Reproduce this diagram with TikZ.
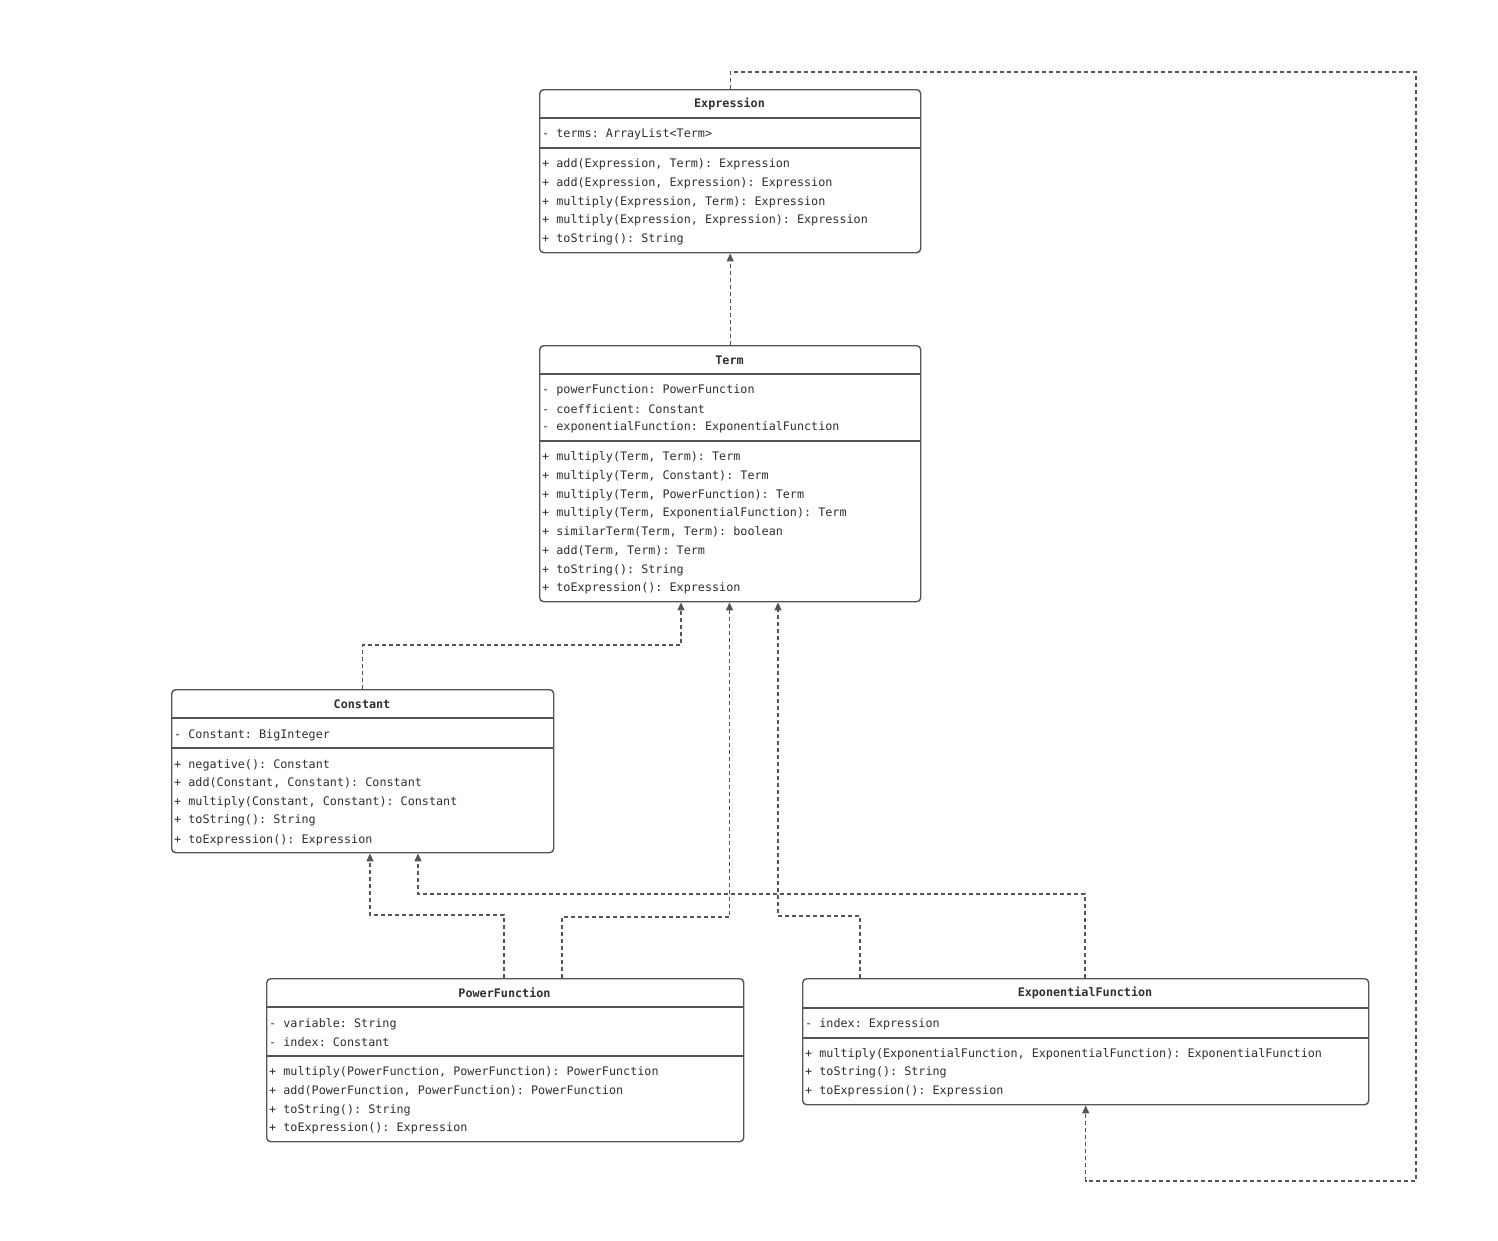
\documentclass[tikz,border=0pt]{standalone}
\usepackage{fontspec}
\setmonofont{DejaVu Sans Mono}
\usetikzlibrary{arrows.meta,calc}
\definecolor{linec}{HTML}{555555}
\definecolor{textc}{HTML}{2F2F2F}
\newcommand{\umlfont}{\ttfamily\fontsize{11.76}{14}\selectfont}
\tikzset{
  cls/.style={draw=linec, line width=1.4pt, rounded corners=4pt, anchor=north west, inner sep=0pt, fill=white},
  sepline/.style={draw=linec, line width=1.4pt},
  rowtxt/.style={anchor=west, inner sep=0pt, text=textc, font=\umlfont, yshift=-1pt},
  ttl/.style={inner sep=0pt, text=textc, font=\umlfont\bfseries, yshift=-1pt},
  dep/.style={draw=linec, line width=1.4pt, dash pattern=on 4pt off 3pt, -{Triangle[length=8pt,width=7pt]}},
}
\begin{document}
\begin{tikzpicture}[x=1pt,y=-1pt]
\useasboundingbox[fill=white] (0,0) rectangle (1498,1240);

% ---------- class boxes ----------
\node[cls, minimum width=381pt, minimum height=163pt] (expr) at (539,89) {};
\node[cls, minimum width=381pt, minimum height=256pt] (term) at (539,345) {};
\node[cls, minimum width=382pt, minimum height=163pt] (const) at (171,689) {};
\node[cls, minimum width=477pt, minimum height=163pt] (pow) at (266,978) {};
\node[cls, minimum width=566pt, minimum height=126pt] (expf) at (802,978) {};

% separators
\draw[sepline] ($(expr.north west)+(0,29)$) -- ($(expr.north east)+(0,29)$);
\draw[sepline] ($(expr.north west)+(0,59)$) -- ($(expr.north east)+(0,59)$);
\draw[sepline] ($(term.north west)+(0,29)$) -- ($(term.north east)+(0,29)$);
\draw[sepline] ($(term.north west)+(0,96)$) -- ($(term.north east)+(0,96)$);
\draw[sepline] ($(const.north west)+(0,29)$) -- ($(const.north east)+(0,29)$);
\draw[sepline] ($(const.north west)+(0,59)$) -- ($(const.north east)+(0,59)$);
\draw[sepline] ($(pow.north west)+(0,29)$) -- ($(pow.north east)+(0,29)$);
\draw[sepline] ($(pow.north west)+(0,78)$) -- ($(pow.north east)+(0,78)$);
\draw[sepline] ($(expf.north west)+(0,30)$) -- ($(expf.north east)+(0,30)$);
\draw[sepline] ($(expf.north west)+(0,60)$) -- ($(expf.north east)+(0,60)$);

% ---------- Expression ----------
\node[ttl] (exprt) at (729.5,103) {Expression};
\node[rowtxt] (ea1) at (542,133) {- terms: ArrayList<Term>};
\node[rowtxt] (em1) at (542,163) {+ add(Expression, Term): Expression};
\node[rowtxt] (em2) at (542,182) {+ add(Expression, Expression): Expression};
\node[rowtxt] (em3) at (542,201) {+ multiply(Expression, Term): Expression};
\node[rowtxt] (em4) at (542,219) {+ multiply(Expression, Expression): Expression};
\node[rowtxt] (em5) at (542,238) {+ toString(): String};

% ---------- Term ----------
\node[ttl] (termt) at (729.5,359) {Term};
\node[rowtxt] (ta1) at (542,389) {- powerFunction: PowerFunction};
\node[rowtxt] (ta2) at (542,408) {- coefficient: Constant};
\node[rowtxt] (ta3) at (542,426) {- exponentialFunction: ExponentialFunction};
\node[rowtxt] (tm1) at (542,456) {+ multiply(Term, Term): Term};
\node[rowtxt] (tm2) at (542,475) {+ multiply(Term, Constant): Term};
\node[rowtxt] (tm3) at (542,494) {+ multiply(Term, PowerFunction): Term};
\node[rowtxt] (tm4) at (542,512) {+ multiply(Term, ExponentialFunction): Term};
\node[rowtxt] (tm5) at (542,531) {+ similarTerm(Term, Term): boolean};
\node[rowtxt] (tm6) at (542,550) {+ add(Term, Term): Term};
\node[rowtxt] (tm7) at (542,569) {+ toString(): String};
\node[rowtxt] (tm8) at (542,587) {+ toExpression(): Expression};

% ---------- Constant ----------
\node[ttl] (constt) at (362,703) {Constant};
\node[rowtxt] (ca1) at (174,734) {- Constant: BigInteger};
\node[rowtxt] (cm1) at (174,764) {+ negative(): Constant};
\node[rowtxt] (cm2) at (174,782) {+ add(Constant, Constant): Constant};
\node[rowtxt] (cm3) at (174,801) {+ multiply(Constant, Constant): Constant};
\node[rowtxt] (cm4) at (174,819) {+ toString(): String};
\node[rowtxt] (cm5) at (174,839) {+ toExpression(): Expression};

% ---------- PowerFunction ----------
\node[ttl] (powt) at (504.5,992) {PowerFunction};
\node[rowtxt] (pa1) at (269,1023) {- variable: String};
\node[rowtxt] (pa2) at (269,1041) {- index: Constant};
\node[rowtxt] (pm1) at (269,1071) {+ multiply(PowerFunction, PowerFunction): PowerFunction};
\node[rowtxt] (pm2) at (269,1090) {+ add(PowerFunction, PowerFunction): PowerFunction};
\node[rowtxt] (pm3) at (269,1109) {+ toString(): String};
\node[rowtxt] (pm4) at (269,1127) {+ toExpression(): Expression};

% ---------- ExponentialFunction ----------
\node[ttl] (expft) at (1085,992) {ExponentialFunction};
\node[rowtxt] (xa1) at (805,1023) {- index: Expression};
\node[rowtxt] (xm1) at (805,1053) {+ multiply(ExponentialFunction, ExponentialFunction): ExponentialFunction};
\node[rowtxt] (xm2) at (805,1071) {+ toString(): String};
\node[rowtxt] (xm3) at (805,1090) {+ toExpression(): Expression};

% ---------- helper coordinates ----------
\coordinate (c681) at (681,645);
\coordinate (c729) at (729.5,917);
\coordinate (c778) at (778,916);
\coordinate (p504) at (504,915);
\coordinate (p562) at (562,917);
\coordinate (x860) at (860,916);
\coordinate (x1085) at (1085,894);
\coordinate (k370) at (370,915);
\coordinate (k418) at (418,894);
\coordinate (top) at (1416,72);
\coordinate (bot) at (1416,1181);

% ---------- connectors ----------
\draw[dep] (term.north) -- (expr.south);
\draw[dep] (const.north) |- (c681) -- (term.south -| c681);
\draw[dep] (p562 |- pow.north) -- (p562) -- (c729) -- (term.south -| c729);
\draw[dep] (x860 |- expf.north) -- (x860) -- (c778) -- (term.south -| c778);
\draw[dep] (p504 |- pow.north) -- (p504) -- (k370) -- (const.south -| k370);
\draw[dep] (x1085 |- expf.north) -- (x1085) -- (k418) -- (const.south -| k418);
\draw[dep] (expr.north) |- (top) -- (bot) -| (expf.south);
\end{tikzpicture}
\end{document}
